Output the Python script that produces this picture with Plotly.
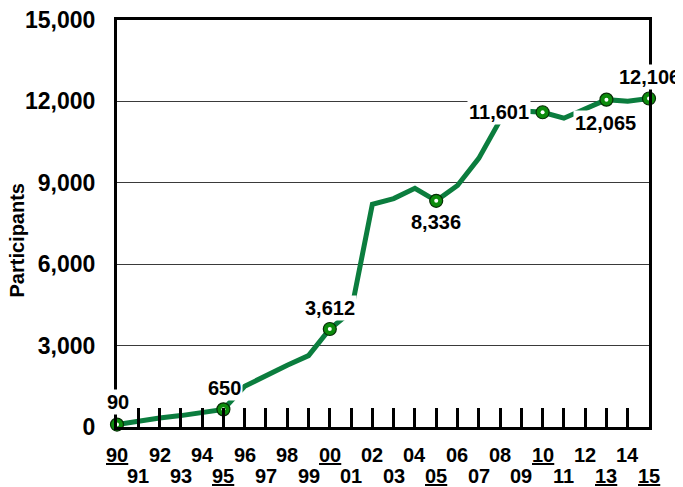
import plotly.graph_objects as go

# ---- data ----
years = list(range(1990, 2016))
participants = [90, 220, 330, 420, 540, 650, 1500, 1900, 2280, 2630,
                3612, 4250, 8210, 8420, 8800, 8336, 8900, 9900, 11300, 11650,
                11601, 11380, 11700, 12065, 12010, 12106]
marked_years = [1990, 1995, 2000, 2005, 2010, 2013, 2015]
tick_labels = ["90", "91", "92", "93", "94", "95", "96", "97", "98", "99",
               "00", "01", "02", "03", "04", "05", "06", "07", "08", "09",
               "10", "11", "12", "13", "14", "15"]
underlined = ["90", "95", "00", "05", "10", "13", "15"]
y_ticks = [0, 3000, 6000, 9000, 12000, 15000]

# ---- styles ----
FONT = "Liberation Sans, Arial, sans-serif"
LINE_GREEN = "#0b7d3e"
# label offsets (px) per marked year: (xshift, yshift, xanchor)
label_pos = {
    1990: (1, 23, "center"),
    1995: (1.5, 21.5, "center"),
    2000: (0, 20.5, "center"),
    2005: (-0.5, -21.5, "center"),
    2010: (-12, 0, "right"),
    2013: (-0.5, -23.5, "center"),
    2015: (0, 21.5, "center"),
}

val = dict(zip(years, participants))
mx = marked_years
my = [val[y] for y in marked_years]

fig = go.Figure()
fig.add_trace(go.Scatter(
    x=years, y=participants, mode="lines",
    line=dict(color=LINE_GREEN, width=5),
    cliponaxis=False, hoverinfo="skip"))
fig.add_trace(go.Scatter(
    x=mx, y=my, mode="markers",
    marker=dict(size=13, color="#0c8c0c",
                line=dict(color="#062e06", width=1.2)),
    cliponaxis=False, hoverinfo="skip"))
fig.add_trace(go.Scatter(
    x=mx, y=my, mode="markers",
    marker=dict(size=4, color="#ffffff", line=dict(width=0)),
    cliponaxis=False, hoverinfo="skip"))

annotations = []
for yr, v in zip(mx, my):
    xs, ys, xa = label_pos[yr]
    annotations.append(dict(
        x=yr, y=v, xref="x", yref="y", text=f"<b>{v:,}</b>",
        showarrow=False, xshift=xs, yshift=ys, xanchor=xa, yanchor="middle",
        bgcolor="white", borderpad=1,
        font=dict(family=FONT, size=20, color="black")))

for i, (yr, lab) in enumerate(zip(years, tick_labels)):
    txt = f"<b>{lab}</b>"
    if lab in underlined:
        txt = f"<u>{txt}</u>"
    annotations.append(dict(
        x=yr, y=0, xref="x", yref="paper", text=txt, showarrow=False,
        xanchor="center", yanchor="middle",
        yshift=-27.5 if i % 2 == 0 else -48.5,
        font=dict(family=FONT, size=20, color="black")))

annotations.append(dict(
    x=0, y=(427 - 241) / 407, xref="paper", yref="paper",
    text="<b>Participants</b>", textangle=-90, showarrow=False,
    xanchor="center", yanchor="middle", xshift=-100.5,
    font=dict(family=FONT, size=20, color="black")))

fig.update_layout(
    width=675, height=479,
    margin=dict(l=109, r=34, t=12, b=60, autoexpand=False),
    paper_bgcolor="white", plot_bgcolor="white",
    showlegend=False,
    annotations=annotations,
    xaxis=dict(range=[1990, 2015], tick0=1990, dtick=1, automargin=False,
               ticks="inside", ticklen=19, tickwidth=3, tickcolor="black",
               showticklabels=False, showgrid=False, zeroline=False,
               showline=True, linewidth=3, linecolor="black", mirror=True),
    yaxis=dict(range=[0, 15000], tickvals=y_ticks, automargin=False,
               ticktext=[f"<b>{t:,}</b>" for t in y_ticks],
               tickfont=dict(family=FONT, size=23, color="black"),
               ticks="", ticklabelstandoff=14, ticklabeloverflow="allow",
               showgrid=True, gridcolor="#3a3a3a", gridwidth=1,
               zeroline=False,
               showline=True, linewidth=3, linecolor="black", mirror=True),
)

fig.write_html("out.html")
